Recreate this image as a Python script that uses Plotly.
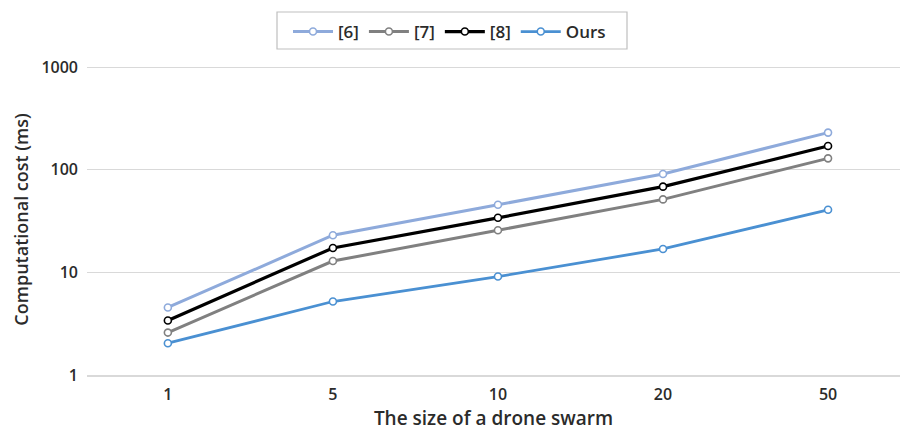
import plotly.graph_objects as go

# Swarm sizes (category axis) and per-method computational cost in ms
swarm_sizes = ["1", "5", "10", "20", "50"]
cost_ref6 = [4.55, 23.0, 45.6, 90.8, 230]
cost_ref7 = [2.59, 12.9, 25.7, 51.4, 129]
cost_ref8 = [3.40, 17.3, 34.0, 68.4, 170]
cost_ours = [2.04, 5.2, 9.1, 16.9, 40.7]

series_names = ["[6]", "[7]", "[8]", "Ours"]
series_values = [cost_ref6, cost_ref7, cost_ref8, cost_ours]
series_colors = ["#8EAADB", "#808080", "#000000", "#4A90D2"]
line_widths = [3, 3, 3.2, 2.8]

FONT = "Open Sans"
TEXT = "#2b2b2b"

# plot area in pixels: x 87..900, y 64..375
PX_L, PX_R, PX_T, PX_B = 87, 900, 64, 375
Y_TOP = 3.03  # log10 upper bound, a little above the 1000 gridline


def px_to_paper_x(px):
    return (px - PX_L) / (PX_R - PX_L)


def px_to_paper_y(py):
    return (PX_B - py) / (PX_B - PX_T)


fig = go.Figure()
for name, vals, col, lw in zip(series_names, series_values, series_colors, line_widths):
    fig.add_trace(go.Scatter(
        x=swarm_sizes, y=vals, name=name, mode="lines+markers",
        line=dict(color=col, width=lw),
        marker=dict(symbol="circle", size=7, color="white",
                    line=dict(color=col, width=1.6)),
    ))

# frame around the legend
fig.add_shape(
    type="rect", xref="paper", yref="paper",
    x0=px_to_paper_x(277), x1=px_to_paper_x(627),
    y0=px_to_paper_y(49), y1=px_to_paper_y(12),
    line=dict(color="#BFBFBF", width=1.2), fillcolor="white", layer="below",
)

fig.update_layout(
    width=900, height=441,
    margin=dict(l=PX_L, r=900 - PX_R, t=PX_T, b=441 - PX_B),
    paper_bgcolor="white", plot_bgcolor="white",
    font=dict(family=FONT, size=16, color=TEXT, weight=600),
    showlegend=True,
    legend=dict(
        orientation="h", x=px_to_paper_x(288), xanchor="left",
        y=px_to_paper_y(14), yanchor="top",
        borderwidth=0, bgcolor="rgba(0,0,0,0)",
        font=dict(family=FONT, size=17, color=TEXT, weight=600),
        traceorder="normal", itemwidth=40,
    ),
    xaxis=dict(
        type="category", range=[-0.49, 4.436],
        showgrid=False, zeroline=False,
        showline=True, linecolor="#D9D9D9", linewidth=1.5,
        ticks="", tickfont=dict(size=16, color=TEXT, weight=600),
        ticklabelstandoff=4,
        title=dict(text="The size of a drone swarm",
                   font=dict(size=19, color=TEXT, weight=600), standoff=8),
    ),
    yaxis=dict(
        type="log", range=[0, Y_TOP],
        tickvals=[1, 10, 100, 1000], ticktext=["1", "10", "100", "1000"],
        showgrid=True, gridcolor="#D9D9D9", gridwidth=1,
        zeroline=False, showline=False, ticks="",
        tickfont=dict(size=16, color=TEXT, weight=600), ticklabelstandoff=8,
        title=dict(text="Computational cost (ms)",
                   font=dict(size=18, color=TEXT, weight=600), standoff=8),
    ),
)

fig.write_html("out.html")
